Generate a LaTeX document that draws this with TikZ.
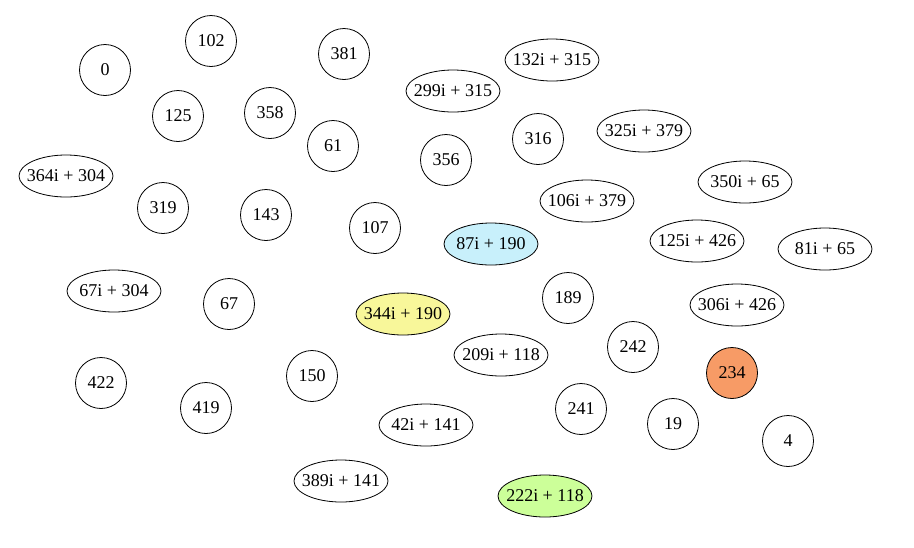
\documentclass[tikz,border=0pt]{standalone}
\usepackage{fontspec}
\setmainfont{Liberation Serif}
\usetikzlibrary{shapes.geometric}
\definecolor{cyanfill}{HTML}{C8F0FB}
\definecolor{yellowfill}{HTML}{F8F79A}
\definecolor{orangefill}{HTML}{F79B66}
\definecolor{greenfill}{HTML}{CCFF99}
\tikzset{
  lbl/.style={font=\fontsize{18}{21}\selectfont, draw=black, line width=0.8pt, inner sep=0pt},
  num/.style={lbl, circle, minimum size=51pt},
  cpx/.style={lbl, ellipse, minimum width=94pt, minimum height=42pt},
}
% a + bi style label, kept in a zero-width box so the ellipse keeps its fixed size
\newcommand{\cz}[2]{\makebox[0pt][c]{#1i + #2}}
\begin{document}
\begin{tikzpicture}[x=1pt,y=-1pt]
\useasboundingbox (0,0) rectangle (914,547);
% integer vertices
\node[num] (n0)   at (105,70)  {0};
\node[num] (n102) at (211,41)  {102};
\node[num] (n381) at (344,54)  {381};
\node[num] (n125) at (178,116) {125};
\node[num] (n358) at (270,113) {358};
\node[num] (n61)  at (333,146) {61};
\node[num] (n356) at (446,160) {356};
\node[num] (n319) at (163,208) {319};
\node[num] (n143) at (266,215) {143};
\node[num] (n107) at (375,228) {107};
\node[num] (n316) at (538,139) {316};
\node[num] (n67)  at (229,304) {67};
\node[num] (n422) at (101,383) {422};
\node[num] (n419) at (206,408) {419};
\node[num] (n150) at (312,376) {150};
\node[num] (n189) at (568,298) {189};
\node[num] (n242) at (633,347) {242};
\node[num, fill=orangefill] (n234) at (732,373) {234};
\node[num] (n241) at (581,409) {241};
\node[num] (n19)  at (673,424) {19};
\node[num] (n4)   at (788,441) {4};
% complex vertices
\node[cpx] (c364) at (66,176)  {\cz{364}{304}};
\node[cpx] (c299) at (453,91)  {\cz{299}{315}};
\node[cpx] (c132) at (552,60)  {\cz{132}{315}};
\node[cpx] (c325) at (644,131) {\cz{325}{379}};
\node[cpx] (c350) at (745,182) {\cz{350}{65}};
\node[cpx] (c106) at (587,201) {\cz{106}{379}};
\node[cpx, fill=cyanfill] (c87) at (491,244) {\cz{87}{190}};
\node[cpx] (c125) at (697,241) {\cz{125}{426}};
\node[cpx] (c81)  at (825,249) {\cz{81}{65}};
\node[cpx] (c67)  at (114,291) {\cz{67}{304}};
\node[cpx, fill=yellowfill] (c344) at (403,314) {\cz{344}{190}};
\node[cpx] (c306) at (737,305) {\cz{306}{426}};
\node[cpx] (c209) at (501,355) {\cz{209}{118}};
\node[cpx] (c42)  at (426,425) {\cz{42}{141}};
\node[cpx] (c389) at (341,481) {\cz{389}{141}};
\node[cpx, fill=greenfill] (c222) at (545,496) {\cz{222}{118}};
\end{tikzpicture}
\end{document}
